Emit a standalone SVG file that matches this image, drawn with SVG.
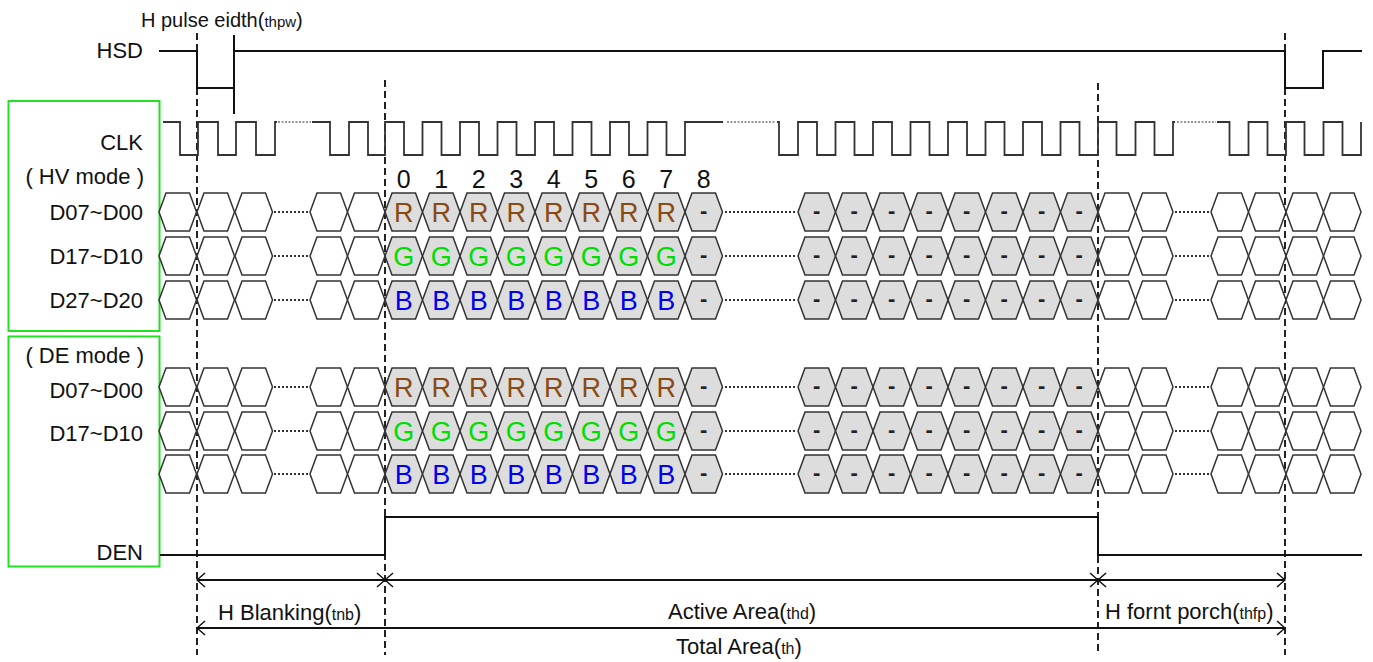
<svg xmlns="http://www.w3.org/2000/svg" xmlns:xlink="http://www.w3.org/1999/xlink" width="1373" height="662" viewBox="0 0 1373 662">
<style>
text{font-family:"Liberation Sans",Arial,sans-serif;fill:#111}
.lb{font-size:22px;text-anchor:end}
.tt{font-size:22px}
.sm{font-size:16px}
.num{font-size:25px;text-anchor:middle}
.ch{font-size:27px;text-anchor:middle}
.r{fill:#8a4a14}
.g{fill:#00dd00}
.b{fill:#0000ee}
.dh{font-size:22px;text-anchor:middle;fill:#222;font-weight:bold}
.hw{fill:#fff;stroke:#333;stroke-width:1.5}
.hg{fill:#dddddd;stroke:#333;stroke-width:1.5}
.sig{fill:none;stroke:#111;stroke-width:2}
.clk{fill:none;stroke:#333;stroke-width:1.8}
.dot{fill:none;stroke:#333;stroke-width:2;stroke-dasharray:2 2}
.cdot{fill:none;stroke:#777;stroke-width:1.5;stroke-dasharray:2 1.5}
.dash{fill:none;stroke:#222;stroke-width:2;stroke-dasharray:7 4}
.box{fill:none;stroke:#22e022;stroke-width:2}
.arr{fill:none;stroke:#111;stroke-width:2}
</style>
<defs>
<path id="hx" d="M0,0 L7,-19 L30.5,-19 L37.5,0 L30.5,19 L7,19 Z"/>
<marker id="ah" viewBox="0 -9 10 18" refX="9" refY="0" markerWidth="10" markerHeight="18" markerUnits="userSpaceOnUse" orient="auto-start-reverse">
<path d="M1,-7 L9,0 L1,7" fill="none" stroke="#111" stroke-width="1.5"/>
</marker>
<g id="cells">
<use href="#hx" x="159" class="hw"/><use href="#hx" x="197" class="hw"/><use href="#hx" x="235" class="hw"/>
<path d="M274,0 H308" class="dot"/>
<use href="#hx" x="310" class="hw"/><use href="#hx" x="347.5" class="hw"/>
<use href="#hx" x="385" class="hg"/><use href="#hx" x="422.5" class="hg"/><use href="#hx" x="460" class="hg"/><use href="#hx" x="497.5" class="hg"/><use href="#hx" x="535" class="hg"/><use href="#hx" x="572.5" class="hg"/><use href="#hx" x="610" class="hg"/><use href="#hx" x="647.5" class="hg"/><use href="#hx" x="685" class="hg"/>
<path d="M725,0 H796" class="dot"/>
<use href="#hx" x="798" class="hg"/><use href="#hx" x="835.5" class="hg"/><use href="#hx" x="873" class="hg"/><use href="#hx" x="910.5" class="hg"/><use href="#hx" x="948" class="hg"/><use href="#hx" x="985.5" class="hg"/><use href="#hx" x="1023" class="hg"/><use href="#hx" x="1060.5" class="hg"/>
<use href="#hx" x="1098" class="hw"/><use href="#hx" x="1135.5" class="hw"/>
<path d="M1175,0 H1209" class="dot"/>
<use href="#hx" x="1211" class="hw"/><use href="#hx" x="1248.5" class="hw"/><use href="#hx" x="1286" class="hw"/><use href="#hx" x="1323.5" class="hw"/>
<text class="dh" x="703.75" y="6">-</text>
<text class="dh" x="816.75" y="6">-</text><text class="dh" x="854.25" y="6">-</text><text class="dh" x="891.75" y="6">-</text><text class="dh" x="929.25" y="6">-</text><text class="dh" x="966.75" y="6">-</text><text class="dh" x="1004.25" y="6">-</text><text class="dh" x="1041.75" y="6">-</text><text class="dh" x="1079.25" y="6">-</text>
</g>
</defs>
<rect width="1373" height="662" fill="#fff"/>

<g id="mode-boxes">
<rect id="hv-box" x="8.5" y="101" width="151" height="230" class="box"/>
<rect id="de-box" x="8.5" y="336.5" width="151" height="230" class="box"/>
</g>

<g id="labels">
<text class="lb" x="143" y="58">HSD</text>
<text class="lb" x="143" y="150">CLK</text>
<text class="lb" x="144" y="184">( HV mode )</text>
<text class="lb" x="143" y="220">D07~D00</text>
<text class="lb" x="143" y="264">D17~D10</text>
<text class="lb" x="143" y="308">D27~D20</text>
<text class="lb" x="144" y="363">( DE mode )</text>
<text class="lb" x="143" y="398">D07~D00</text>
<text class="lb" x="143" y="441">D17~D10</text>
<text class="lb" x="143" y="560">DEN</text>
<text x="141" y="27" style="font-size:20px">H pulse eidth(<tspan style="font-size:15px">thpw</tspan>)</text>
</g>

<g id="guides">
<path d="M197,33 V655" class="dash"/>
<path d="M385,80 V655" class="dash"/>
<path d="M1098,83 V655" class="dash"/>
<path d="M1285,33 V655" class="dash"/>
</g>

<g id="hsd">
<path d="M159,51 H197 V88 H234 V51 H1285 V88 H1323 V51 H1362" class="sig"/>
<path d="M234,35 V114" class="sig"/>
</g>

<g id="clk">
<path class="clk" d="M163,122 H180 V155 H198 V122 H218 V155 H236 V122 H256 V155 H275 V122 H277"/>
<path class="cdot" d="M278,122 H311"/>
<path class="clk" d="M312,122 H330 V155 H349 V122 H368 V155 H385 V122 H404 V155 H422.5 V122 H441.5 V155 H460 V122 H479 V155 H497.5 V122 H516.5 V155 H535 V122 H554 V155 H572.5 V122 H591.5 V155 H610 V122 H629 V155 H647.5 V122 H666.5 V155 H685 V122 H723"/>
<path class="cdot" d="M727,122 H776"/>
<path class="clk" d="M777,122 H779 V155 H798 V122 H817 V155 H835.5 V122 H854.5 V155 H873 V122 H892 V155 H910.5 V122 H929.5 V155 H948 V122 H967 V155 H985.5 V122 H1004.5 V155 H1023 V122 H1042 V155 H1060.5 V122 H1079.5 V155 H1098 V122 H1116.5 V155 H1135.5 V122 H1154.5 V155 H1173 V122 H1175"/>
<path class="cdot" d="M1177,122 H1216"/>
<path class="clk" d="M1217,122 H1229.5 V155 H1248.5 V122 H1267.5 V155 H1286 V122 H1304.5 V155 H1323.5 V122 H1342.5 V155 H1361 V122"/>
</g>

<g id="indices">
<text class="num" x="403.75" y="188">0</text><text class="num" x="441.25" y="188">1</text><text class="num" x="478.75" y="188">2</text><text class="num" x="516.25" y="188">3</text><text class="num" x="553.75" y="188">4</text><text class="num" x="591.25" y="188">5</text><text class="num" x="628.75" y="188">6</text><text class="num" x="666.25" y="188">7</text><text class="num" x="703.75" y="188">8</text>
</g>

<g id="hv-d0">
<use href="#cells" y="212"/>
<text class="ch r" x="403.75" y="222">R</text><text class="ch r" x="441.25" y="222">R</text><text class="ch r" x="478.75" y="222">R</text><text class="ch r" x="516.25" y="222">R</text><text class="ch r" x="553.75" y="222">R</text><text class="ch r" x="591.25" y="222">R</text><text class="ch r" x="628.75" y="222">R</text><text class="ch r" x="666.25" y="222">R</text>
</g>
<g id="hv-d1">
<use href="#cells" y="256"/>
<text class="ch g" x="403.75" y="266">G</text><text class="ch g" x="441.25" y="266">G</text><text class="ch g" x="478.75" y="266">G</text><text class="ch g" x="516.25" y="266">G</text><text class="ch g" x="553.75" y="266">G</text><text class="ch g" x="591.25" y="266">G</text><text class="ch g" x="628.75" y="266">G</text><text class="ch g" x="666.25" y="266">G</text>
</g>
<g id="hv-d2">
<use href="#cells" y="300"/>
<text class="ch b" x="403.75" y="310">B</text><text class="ch b" x="441.25" y="310">B</text><text class="ch b" x="478.75" y="310">B</text><text class="ch b" x="516.25" y="310">B</text><text class="ch b" x="553.75" y="310">B</text><text class="ch b" x="591.25" y="310">B</text><text class="ch b" x="628.75" y="310">B</text><text class="ch b" x="666.25" y="310">B</text>
</g>
<g id="de-d0">
<use href="#cells" y="387"/>
<text class="ch r" x="403.75" y="397">R</text><text class="ch r" x="441.25" y="397">R</text><text class="ch r" x="478.75" y="397">R</text><text class="ch r" x="516.25" y="397">R</text><text class="ch r" x="553.75" y="397">R</text><text class="ch r" x="591.25" y="397">R</text><text class="ch r" x="628.75" y="397">R</text><text class="ch r" x="666.25" y="397">R</text>
</g>
<g id="de-d1">
<use href="#cells" y="431"/>
<text class="ch g" x="403.75" y="441">G</text><text class="ch g" x="441.25" y="441">G</text><text class="ch g" x="478.75" y="441">G</text><text class="ch g" x="516.25" y="441">G</text><text class="ch g" x="553.75" y="441">G</text><text class="ch g" x="591.25" y="441">G</text><text class="ch g" x="628.75" y="441">G</text><text class="ch g" x="666.25" y="441">G</text>
</g>
<g id="de-d2">
<use href="#cells" y="474"/>
<text class="ch b" x="403.75" y="484">B</text><text class="ch b" x="441.25" y="484">B</text><text class="ch b" x="478.75" y="484">B</text><text class="ch b" x="516.25" y="484">B</text><text class="ch b" x="553.75" y="484">B</text><text class="ch b" x="591.25" y="484">B</text><text class="ch b" x="628.75" y="484">B</text><text class="ch b" x="666.25" y="484">B</text>
</g>

<g id="den">
<path d="M160,555 H385 V517 H1098 V555 H1362" class="sig"/>
</g>

<g id="connectors">
<path d="M197,580 H385" class="arr" marker-start="url(#ah)" marker-end="url(#ah)"/>
<path d="M385,580 H1098" class="arr" marker-start="url(#ah)" marker-end="url(#ah)"/>
<path d="M1098,580 H1285" class="arr" marker-start="url(#ah)" marker-end="url(#ah)"/>
<path d="M197,628 H1285" class="arr" marker-start="url(#ah)" marker-end="url(#ah)"/>
</g>

<g id="dimension-labels">
<text class="tt" x="218" y="620">H Blanking(<tspan class="sm">tnb</tspan>)</text>
<text class="tt" x="668" y="619">Active Area(<tspan class="sm">thd</tspan>)</text>
<text class="tt" x="1105" y="619">H fornt porch(<tspan class="sm">thfp</tspan>)</text>
<text class="tt" x="676" y="654">Total Area(<tspan class="sm">th</tspan>)</text>
</g>
</svg>
